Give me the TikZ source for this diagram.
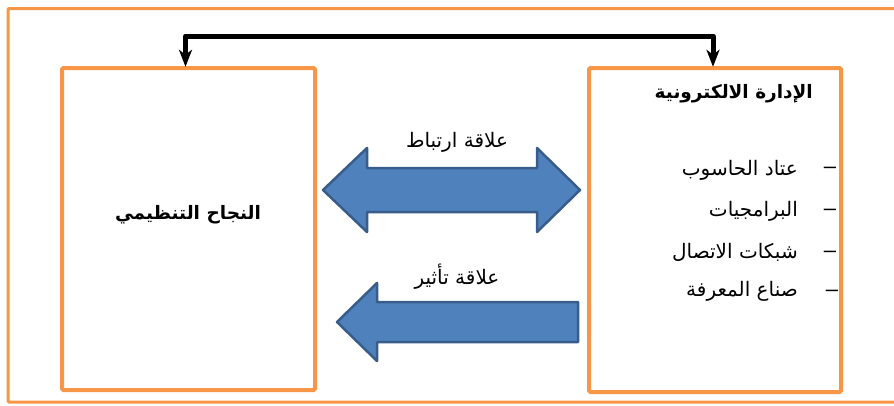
\documentclass[tikz,border=0pt]{standalone}
\usepackage{fontspec}
\setmainfont{Liberation Sans}
\newfontfamily\arabicfont[Script=Arabic]{DejaVu Sans}
\TeXXeTstate=1
\usetikzlibrary{arrows.meta,calc}
\definecolor{frameorange}{HTML}{F79646}
\definecolor{arrowblue}{HTML}{4F81BD}
\definecolor{arrowedge}{HTML}{385D8A}
\tikzset{
  boxframe/.style={draw=frameorange,line width=4pt,rounded corners=1.5pt},
  blockarrow/.style={fill=arrowblue,draw=arrowedge,line width=2.5pt,line join=round},
  artext/.style={font=\arabicfont\fontsize{20}{22}\selectfont,inner sep=0pt},
  artitle/.style={font=\arabicfont\bfseries\fontsize{18.5}{20}\selectfont,inner sep=0pt},
  dashtext/.style={font=\fontsize{22}{24}\selectfont,inner sep=0pt},
}
\begin{document}
\begin{tikzpicture}[x=1pt,y=-1pt]
\useasboundingbox (0,0) rectangle (894,405);
\begin{scope}
\clip (0,0) rectangle (894,405);
\draw[frameorange,line width=3pt,rounded corners=1pt] (8,8.5) rectangle (905,402);
\end{scope}
% boxes
\draw[boxframe] (62,68) rectangle (315,390);
\node[minimum width=253pt,minimum height=322pt,inner sep=0pt] (L) at (188.5,229) {};
\draw[boxframe] (589,68) rectangle (841,392);
\node[minimum width=252pt,minimum height=324pt,inner sep=0pt] (R) at (715,230) {};
% top connector
\coordinate (top) at (0,36);
\draw[line width=5pt,line join=round,{Stealth[length=17pt,width=13pt,inset=5pt]}-{Stealth[length=17pt,width=13pt,inset=5pt]}]
  ($(L.north)+(-3,-1)$) -- ($(L.north |- top)+(-3,0)$) -- ($(R.north |- top)+(-2,0)$) -- ($(R.north)+(-2,-1)$);
% block arrows
\draw[blockarrow] (323,190) -- (367,148) -- (367,168) -- (537,168) -- (537,148) -- (580,190)
  -- (537,232) -- (537,212) -- (367,212) -- (367,232) -- cycle;
\draw[blockarrow] (337,322) -- (377,283) -- (377,302) -- (578,302) -- (578,342) -- (377,342) -- (377,361) -- cycle;
% labels
\node[artext] (rel1) at (457,142) {\beginR علاقة ارتباط\endR};
\node[artext] (rel2) at (457,277) {\beginR علاقة تأثير\endR};
% left text
\node[artitle] (lt) at (188,215) {\beginR النجاح التنظيمي\endR};
% right text
\node[artitle,anchor=east] (rt) at (813,94) {\beginR الإدارة الالكترونية\endR};
\node[artext,anchor=east] (i1) at (798,170) {\beginR عتاد الحاسوب\endR};
\node[artext,anchor=east] (i2) at (798,211) {\beginR البرامجيات\endR};
\node[artext,anchor=east] (i3) at (798,252) {\beginR شبكات الاتصال\endR};
\node[artext,anchor=east] (i4) at (798,291) {\beginR صناع المعرفة\endR};
\node[dashtext] (d1) at (830,170) {–};
\node[dashtext] (d2) at (830,212) {–};
\node[dashtext] (d3) at (830,254) {–};
\node[dashtext] (d4) at (832,293) {–};
\end{tikzpicture}
\end{document}
